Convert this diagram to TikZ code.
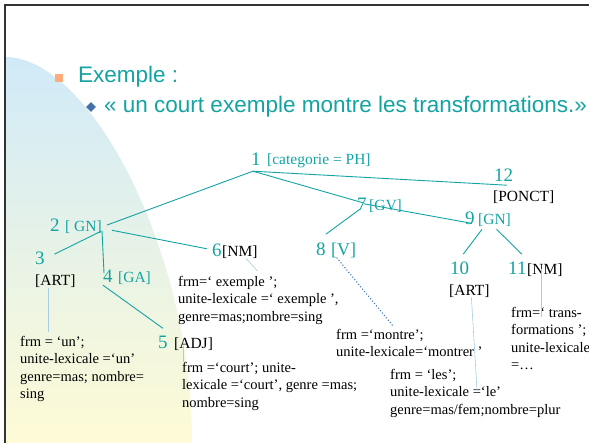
\documentclass[tikz,border=0pt]{standalone}
\usepackage{fontspec}
\setmainfont{Liberation Serif}
\newfontfamily\slidefont{Liberation Sans}
\usetikzlibrary{calc,shapes.geometric}
\definecolor{slideteal}{RGB}{20,163,163}
\definecolor{bgblue}{RGB}{208,234,248}
\definecolor{bgyellow}{RGB}{254,251,214}
\definecolor{bulletorange}{RGB}{255,172,122}
\definecolor{bulletblue}{RGB}{66,112,168}
\definecolor{glossblue}{RGB}{168,204,226}
\definecolor{dotblue}{RGB}{62,122,182}

\begin{document}
\begin{tikzpicture}[x=1pt, y=-1pt,
        num/.style = {text=slideteal, font=\fontsize{19}{19}\selectfont, inner sep=0pt, anchor=base west},
        cat/.style = {font=\fontsize{15.5}{15.5}\selectfont, inner sep=0pt, anchor=base west},
        lex/.style = {font=\fontsize{14.5}{17.5}\selectfont, inner sep=0pt, anchor=north west, align=left},
        branch/.style = {draw=slideteal, line width=0.9pt},
        gloss/.style = {draw=glossblue, line width=0.6pt}
        ]
        \useasboundingbox (0,0) rectangle (589,443);
        \clip (0,0) rectangle (589,443);
        \shade[top color=bgblue, bottom color=bgyellow] (5,57) .. controls (90,57) and (192,250) .. (192,443) -- (5,443) -- cycle;
        \draw[line width=1.3pt, black!80] (5,443) -- (5,5) -- (589,5);

        \node[fill=bulletorange, minimum size=8pt, inner sep=0pt] (sq) at (59,78) {};
        \node[anchor=base west, inner sep=0pt, text=slideteal, font=\slidefont\fontsize{22.5}{22.5}\selectfont] (title) at (78,83) {Exemple :};
        \node[diamond, fill=bulletblue, minimum size=10pt, inner sep=0pt] (dia) at (91,107) {};
        \node[anchor=base west, inner sep=0pt, text=slideteal, font=\slidefont\fontsize{22.5}{22.5}\selectfont] (quote) at (104,113) {« un court exemple montre les transformations.»};

        \node[num] (n1) at (251,166) {1};
        \node[cat, text=slideteal] (c1) at (267,165) {[categorie = PH]};
        \node[num] (n12) at (494,182) {12};
        \node[cat] (c12) at (493,202) {[PONCT]};
        \node[num] (n7) at (357,211) {7};
        \node[cat, text=slideteal] (c7) at (369,211) {[GV]};
        \node[num] (n9) at (465,225) {9};
        \node[cat, text=slideteal] (c9) at (478,225) {[GN]};
        \node[num] (n8) at (316,256) {8};
        \node[cat, text=slideteal, font=\fontsize{18}{18}\selectfont] (c8) at (331,256) {[V]};
        \node[num] (n10) at (450,275) {10};
        \node[cat] (c10) at (449,296) {[ART]};
        \node[num] (n11) at (508,275) {11};
        \node[cat] (c11) at (527,275) {[NM]};
        \node[num] (n2) at (50,232) {2};
        \node[cat, text=slideteal] (c2) at (65,232) {[ GN]};
        \node[num] (n3) at (35,265) {3};
        \node[cat] (c3) at (35,286) {[ART]};
        \node[num] (n4) at (103,283) {4};
        \node[cat, text=slideteal] (c4) at (118,283) {[GA]};
        \node[num] (n5) at (158,349) {5};
        \node[cat] (c5) at (174,349) {[ADJ]};
        \node[num] (n6) at (212,257) {6};
        \node[cat] (c6) at (222,257) {[NM]};

        \node[lex] (lex3) at (20,336) {frm = ‘un’;\\unite-lexicale =‘un’\\genre=mas; nombre=\\sing};
        \node[lex] (lex6) at (178,276) {frm=‘ exemple ’;\\unite-lexicale =‘ exemple ’,\\genre=mas;nombre=sing};
        \node[lex] (lex5) at (182,362) {frm =‘court’; unite-\\lexicale =‘court’, genre =mas;\\nombre=sing};
        \node[lex] (lex8) at (336,329) {frm =‘montre’;\\unite-lexicale=‘montrer ’};
        \node[lex] (lex10) at (390,369) {frm = ‘les’;\\unite-lexicale =‘le’\\genre=mas/fem;nombre=plur};
        \node[lex] (lex11) at (511,307) {frm=‘ trans-\\formations ’;\\unite-lexicale\\=…};

        \draw[branch] ($(n1.south)+(-3,5)$) -- ($(c2.north east)+(5,4)$);
        \draw[branch] ($(n1.south)+(-3,5)$) -- ($(n7.east)+(-4,-2)$);
        \draw[branch] ($(n1.south)+(-3,5)$) -- ($(n12.south)+(3,3)$);
        \draw[branch] ($(n7.east)+(-3,-1)$) -- ($(n9.south)+(2,-2)$);
        \draw[branch] ($(n7.south)+(-2,-2)$) -- ($(n8.north east)+(0,-9)$);
        \draw[branch] ($(c9.south west)+(4,2)$) -- ($(n10.north)+(3.5,-8)$);
        \draw[branch] ($(c9.south)+(2,2)$) -- ($(n11.north)+(4.5,-8)$);
        \draw[branch] ($(c2.south east)+(-1,-3)$) -- ($(n3.north east)+(9.5,2)$);
        \draw[branch] ($(c2.south east)+(0,-4)$) -- ($(n4.north west)+(1,3)$);
        \draw[branch] ($(c2.south east)+(10,-4)$) -- ($(n6.west)+(-5,-2)$);
        \draw[branch] ($(n4.south west)+(0,2)$) -- ($(n5.north)+(0,-8)$);

        \draw[gloss] ([xshift=-7.5pt]c3.south) -- ([xshift=-7.5pt,yshift=4pt]c3.south |- lex3.north);
        \draw[gloss] ($(c6.south)+(6,-1)$) -- ($(c6.south east)+(0,12)$);
        \draw[gloss] ([xshift=9pt,yshift=5pt]c5.south west) -- ([xshift=9pt]c5.south west |- lex5.north);
        \draw[dotblue, line width=1.1pt, dotted] ($(c8.south)+(-7,-1)$) -- ($(lex8.north west)+(57,-3)$);
        \draw[gloss] ($(c10.south)+(2,-1)$) -- ($(lex10.north west)+(87,21)$);
        \draw[gloss] ($(c11.south)+(-4,-8)$) -- ($(c11.south)+(-4,40)$);
\end{tikzpicture}
\end{document}
